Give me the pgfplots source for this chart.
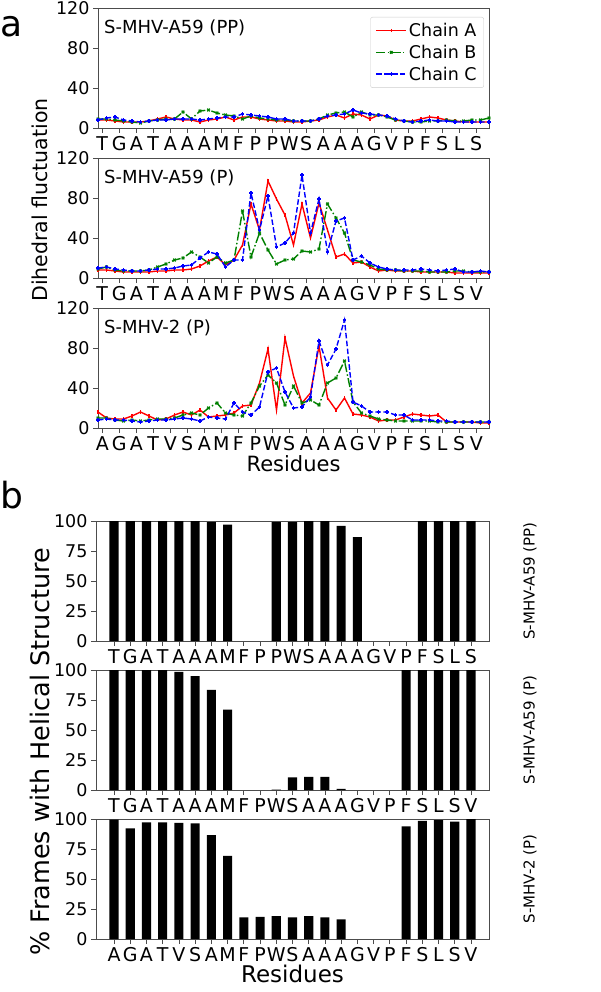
\documentclass[border=0pt]{standalone}
\usepackage{pgfplots}
\pgfplotsset{compat=1.18}
\usepackage{pgfplotstable}
\usepackage{fontspec}
\setmainfont{DejaVu Sans}
\newcommand\fs[1]{\fontsize{#1}{#1}\selectfont}
\definecolor{mplred}{HTML}{FF0000}
\definecolor{mplgreen}{HTML}{008000}
\definecolor{mplblue}{HTML}{0000FF}
\definecolor{spine}{gray}{0.3}

\pgfplotstableread{
k A B C
0 8 9 8
1 8 9 10
2 7 8 11
3 6 7 8
4 6 6 7
5 6 5 6
6 7 7 7
7 9 8 8
8 11 9 8
9 9 9 9
10 8 16 9
11 8 9 9
12 6 17 8
13 8 18 9
14 9 15 10
15 11 13 11
16 8 12 11
17 11 9 14
18 11 12 13
19 9 10 12
20 8 9 11
21 7 8 9
22 7 8 9
23 6 7 7
24 6 7 7
25 7 7 7
26 8 9 9
27 11 13 12
28 13 15 13
29 10 16 14
30 14 11 18
31 13 16 15
32 9 13 14
33 13 13 13
34 12 11 12
35 8 8 9
36 7 7 7
37 7 6 6
38 9 6 7
39 11 7 8
40 10 7 7
41 8 8 7
42 7 7 6
43 6 7 6
44 6 8 6
45 6 8 6
46 6 10 6
}\dataone

\pgfplotstableread{
k A B C
0 8 9 10
1 8 11 11
2 7 8 9
3 6 7 8
4 6 7 7
5 6 7 7
6 6 8 8
7 7 11 9
8 7 14 9
9 8 18 10
10 8 20 12
11 9 26 13
12 12 21 20
13 17 15 26
14 21 21 24
15 13 15 11
16 18 18 18
17 33 67 18
18 74 21 85
19 48 45 48
20 97 28 82
21 79 14 31
22 63 18 35
23 33 19 45
24 74 27 103
25 40 26 45
26 75 29 79
27 48 74 26
28 21 60 57
29 24 45 60
30 15 18 18
31 16 16 22
32 11 13 15
33 7 9 11
34 8 8 9
35 7 8 8
36 7 7 8
37 7 7 8
38 6 7 9
39 6 6 8
40 6 6 7
41 6 6 8
42 5 7 9
43 5 7 6
44 5 6 6
45 5 6 7
46 5 6 6
}\datatwo

\pgfplotstableread{
k A B C
0 16 10 8
1 10 10 9
2 9 8 8
3 9 7 8
4 12 8 7
5 16 7 6
6 12 8 7
7 8 9 8
8 9 9 8
9 13 10 9
10 16 13 10
11 13 15 9
12 18 13 7
13 11 20 11
14 12 25 10
15 13 15 9
16 15 13 25
17 22 12 16
18 23 25 13
19 45 42 21
20 79 53 56
21 18 45 60
22 90 23 36
23 52 42 20
24 25 25 21
25 35 28 31
26 82 23 87
27 30 45 63
28 18 50 79
29 30 67 108
30 14 26 26
31 13 15 22
32 11 12 16
33 7 9 16
34 8 8 16
35 8 7 13
36 11 7 13
37 14 7 8
38 13 7 8
39 12 7 8
40 13 6 7
41 6 6 7
42 6 6 6
43 6 6 6
44 6 6 6
45 5 6 6
46 5 6 6
}\datathree

\pgfplotstableread{
i v
0 100
1 100
2 100
3 100
4 100
5 100
6 99
7 97
10 99
11 99
12 100
13 100
14 96
15 86.5
19 100
20 100
21 100
22 100
}\barone

\pgfplotstableread{
i v
0 100
1 100
2 100
3 100
4 98.5
5 95
6 83.5
7 67
10 0.4
11 10.5
12 11
13 11
14 1
18 100
19 100
20 100
21 100
22 100
}\bartwo

\pgfplotstableread{
i v
0 99.4
1 92.2
2 97.2
3 97.2
4 96.8
5 96.3
6 86.6
7 69.2
8 18.1
9 18.4
10 19
11 18
12 19
13 18
14 16.3
18 93.9
19 98.5
20 99
21 97.8
22 100
}\barthree

\pgfplotsset{
  common/.style={
    scale only axis, height=120pt,
    clip mode=individual,
    tick align=outside, major tick length=5pt,
    xtick pos=bottom, ytick pos=left,
    tick style={spine, line width=0.8pt},
    axis line style={spine, line width=0.8pt},
    yticklabel style={font=\fs{17.5}},
    xticklabel style={font=\fs{19}},
    /pgf/number format/assume math mode=true,
  },
  dihedral/.style={
    common, width=391pt,
    xmin=0, xmax=46, ymin=0, ymax=120,
    ytick={0,40,80,120},
    xtick={0.5,2.5,...,44.5},
  },
  helix/.style={
    common, width=393pt,
    xmin=-1.11, xmax=23.11, ymin=0, ymax=100,
    ytick={0,25,50,75,100},
    xtick={0,...,22},
  },
  chA/.style={mplred, line width=1.4pt, mark=|, mark size=1.8pt, mark options={solid}},
  chB/.style={mplgreen, line width=1.4pt, dash pattern=on 9pt off 2.4pt on 1.5pt off 2.4pt, mark=x, mark size=1.8pt, mark options={solid}},
  chC/.style={mplblue, line width=1.4pt, dash pattern=on 5.5pt off 2.4pt, mark=+, mark size=1.8pt, mark options={solid}},
}

\begin{document}
\begin{tikzpicture}
\useasboundingbox (0pt,0pt) rectangle (600pt,-992pt);

% ---------- panel a ----------
\node[anchor=base west, inner sep=0pt, font=\fs{36}] at (0pt,-37pt) {a};

\begin{axis}[dihedral, at={(98pt,-128pt)}, anchor=south west,
  xticklabels={T,G,A,T,A,A,A,M,F,P,P,W,S,A,A,A,G,V,P,F,S,L,S},
  legend style={at={(0.987,0.925)}, anchor=north east, draw=black!20, rounded corners=2pt,
    font=\fs{17.5}, row sep=3pt, inner xsep=5pt, inner ysep=4pt},
  legend image code/.code={\draw[mark repeat=2,mark phase=2,#1] plot coordinates {(0pt,0pt) (15pt,0pt) (30pt,0pt)};},
  legend cell align=left]
\addplot[chA] table[x=k, y=A] {\dataone};
\addplot[chB] table[x=k, y=B] {\dataone};
\addplot[chC] table[x=k, y=C] {\dataone};
\legend{Chain A, Chain B, Chain C}
\node[xshift=6pt, yshift=-12pt, anchor=north west, inner sep=0pt, font=\fs{18}] at (rel axis cs:0,1) {S-MHV-A59 (PP)};
\end{axis}

\begin{axis}[dihedral, at={(98pt,-278pt)}, anchor=south west,
  xticklabels={T,G,A,T,A,A,A,M,F,P,W,S,A,A,A,G,V,P,F,S,L,S,V}]
\addplot[chA] table[x=k, y=A] {\datatwo};
\addplot[chB] table[x=k, y=B] {\datatwo};
\addplot[chC] table[x=k, y=C] {\datatwo};
\node[xshift=6pt, yshift=-12pt, anchor=north west, inner sep=0pt, font=\fs{18}] at (rel axis cs:0,1) {S-MHV-A59 (P)};
\end{axis}

\begin{axis}[dihedral, at={(98pt,-428pt)}, anchor=south west,
  xticklabels={A,G,A,T,V,S,A,M,F,P,W,S,A,A,A,G,V,P,F,S,L,S,V},
  xlabel={Residues}, xlabel style={font=\fs{21}, yshift=2pt}]
\addplot[chA] table[x=k, y=A] {\datathree};
\addplot[chB] table[x=k, y=B] {\datathree};
\addplot[chC] table[x=k, y=C] {\datathree};
\node[xshift=6pt, yshift=-12pt, anchor=north west, inner sep=0pt, font=\fs{18}] at (rel axis cs:0,1) {S-MHV-2 (P)};
\end{axis}

\node[rotate=90, font=\fs{20.5}] at (40pt,-200pt) {Dihedral fluctuation};

% ---------- panel b ----------
\node[anchor=base west, inner sep=0pt, font=\fs{36}] at (0pt,-508pt) {b};

\begin{axis}[helix, at={(96pt,-641pt)}, anchor=south west,
  xticklabels={T,G,A,T,A,A,A,M,F,P,P,W,S,A,A,A,G,V,P,F,S,L,S}]
\addplot[ybar, bar width=0.56, bar shift=0pt, fill=black, draw=none] table[x=i, y=v] {\barone};
\node[xshift=41pt, rotate=90, font=\fs{15}] at (rel axis cs:1,0.5) {S-MHV-A59 (PP)};
\end{axis}

\begin{axis}[helix, at={(96pt,-790pt)}, anchor=south west,
  xticklabels={T,G,A,T,A,A,A,M,F,P,W,S,A,A,A,G,V,P,F,S,L,S,V}]
\addplot[ybar, bar width=0.56, bar shift=0pt, fill=black, draw=none] table[x=i, y=v] {\bartwo};
\node[xshift=41pt, rotate=90, font=\fs{15}] at (rel axis cs:1,0.5) {S-MHV-A59 (P)};
\end{axis}

\begin{axis}[helix, at={(96pt,-939pt)}, anchor=south west,
  xticklabels={A,G,A,T,V,S,A,M,F,P,W,S,A,A,A,G,V,P,F,S,L,S,V},
  xlabel={Residues}, xlabel style={font=\fs{23}, yshift=4pt}]
\addplot[ybar, bar width=0.56, bar shift=0pt, fill=black, draw=none] table[x=i, y=v] {\barthree};
\node[xshift=41pt, rotate=90, font=\fs{15}] at (rel axis cs:1,0.5) {S-MHV-2 (P)};
\end{axis}

\node[rotate=90, font=\fs{25.5}] at (40pt,-752pt) {\% Frames with Helical Structure};

\end{tikzpicture}
\end{document}
